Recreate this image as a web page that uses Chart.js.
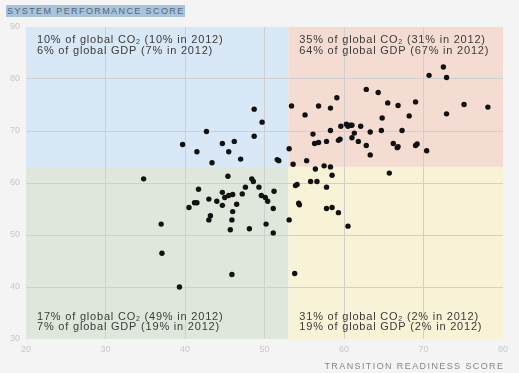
<!DOCTYPE html>
<html>
<head>
<meta charset="utf-8">
<script src="https://cdn.jsdelivr.net/npm/chart.js@4"></script>
<style>
  html, body { margin: 0; padding: 0; background: #f4f4f4; }
  #wrap { position: relative; width: 519px; height: 373px; overflow: hidden; }
  canvas { position: absolute; left: 0; top: 0; }
  #ytitle { position: absolute; left: 6px; top: 5px; height: 12px; line-height: 12px; padding: 0 0 0 1px;
    background: #a9c3da; color: #52667a; font-family: "Liberation Sans", Arial, sans-serif; font-size: 9px;
    letter-spacing: 1.4px; white-space: nowrap; }
  #xtitle { position: absolute; right: 16px; top: 361px; color: #858585; font-family: "Liberation Sans", Arial, sans-serif;
    font-size: 9px; letter-spacing: 1.4px; white-space: nowrap; margin-right: -1.4px; }
</style>
</head>
<body>
<div id="wrap">
  <canvas id="c" width="519" height="373"></canvas>
  <div id="ytitle">SYSTEM PERFORMANCE SCORE</div>
  <div id="xtitle">TRANSITION READINESS SCORE</div>
</div>
<script>
// ---- Data ----
const readinessScores = [
  48.7, 49.7, 42.7, 48.7, 39.7, 44.7, 46.2, 41.5, 45.5, 43.4, 47.0, 51.6, 51.8,
  72.5, 70.7, 72.9, 62.8, 64.3, 59.1, 53.4, 56.8, 58.3, 65.5, 66.8, 69.0, 75.1, 78.1,
  55.1, 64.8, 68.2, 72.9, 59.6, 60.3, 60.5, 60.8, 61.0, 62.1, 58.3, 64.7, 67.3, 63.3,
  61.3, 56.1, 61.0, 59.5, 59.3, 57.8, 61.8, 56.3, 56.8, 62.8, 66.2, 66.7, 66.8, 69.0,
  69.2, 53.1, 70.4, 63.3, 53.6, 55.3, 57.5, 58.3,
  56.4, 58.5, 65.7, 53.9, 54.1, 55.8, 56.6, 57.8, 54.3, 54.4, 57.8, 58.5, 59.3, 60.5,
  53.1, 53.8,
  34.8, 45.4, 48.4, 48.6, 41.7, 47.6, 49.3, 51.2, 44.7, 47.2, 46.0, 45.5, 45.0, 43.0,
  44.0, 49.6, 50.1, 50.4, 41.2, 41.5, 44.7, 46.5, 40.5, 51.1, 46.0, 43.2, 43.0, 45.9,
  37.0, 50.2, 45.7, 48.1, 51.1, 37.1, 45.9, 39.3
];
const performanceScores = [
  74.2, 71.7, 69.9, 69.0, 67.4, 67.6, 68.0, 66.0, 66.0, 63.9, 64.6, 64.5, 64.3,
  82.3, 80.7, 80.3, 78.0, 77.4, 76.4, 74.8, 74.8, 74.4, 75.4, 74.9, 75.6, 75.1, 74.6,
  73.1, 72.5, 72.9, 73.3, 70.9, 71.3, 70.9, 71.1, 71.1, 70.9, 70.1, 70.1, 70.1, 69.8,
  69.6, 69.4, 68.7, 68.4, 68.2, 68.0, 68.0, 67.6, 67.8, 67.2, 67.6, 66.8, 67.0, 67.2,
  67.5, 66.6, 66.2, 65.4, 63.6, 64.3, 63.3, 63.1,
  62.7, 61.5, 61.9, 59.5, 59.7, 60.3, 60.3, 59.2, 56.1, 55.8, 55.1, 55.3, 54.3, 51.7,
  52.9, 42.6,
  60.8, 61.3, 60.8, 60.3, 58.8, 59.2, 59.2, 58.4, 58.2, 57.9, 57.8, 57.6, 57.2, 56.9,
  56.5, 57.6, 57.2, 56.5, 56.2, 56.2, 55.7, 55.9, 55.3, 55.1, 54.5, 53.7, 52.9, 52.9,
  52.1, 52.1, 51.0, 51.2, 50.4, 46.5, 42.4, 40.0
];
const xTicks = [20, 30, 40, 50, 60, 70, 80];
const yTicks = [30, 40, 50, 60, 70, 80, 90];
const readinessSplit = 53.0;
const performanceSplit = 63.1;
const quadrantLabels = [
  { pos: 'tl', co2: '10%', co2Prev: '10%', gdp: '6%',  gdpPrev: '7%'  },
  { pos: 'tr', co2: '35%', co2Prev: '31%', gdp: '64%', gdpPrev: '67%' },
  { pos: 'bl', co2: '17%', co2Prev: '49%', gdp: '7%',  gdpPrev: '19%' },
  { pos: 'br', co2: '31%', co2Prev: '2%',  gdp: '19%', gdpPrev: '2%'  }
];
const quadrantColors = { tl: '#d9e8f6', tr: '#f5dcd2', bl: '#dfe7dc', br: '#f8f2d6' };

const points = readinessScores.map((x, i) => ({ x: x, y: performanceScores[i] }));

const FONT = '"Liberation Sans", Arial, sans-serif';

const quadrantPlugin = {
  id: 'quadrants',
  beforeDraw(chart) {
    const { ctx, chartArea: a, scales: { x, y } } = chart;
    const sx = x.getPixelForValue(readinessSplit);
    const sy = y.getPixelForValue(performanceSplit);
    ctx.save();
    ctx.fillStyle = quadrantColors.tl; ctx.fillRect(a.left, a.top, sx - a.left, sy - a.top);
    ctx.fillStyle = quadrantColors.tr; ctx.fillRect(sx, a.top, a.right - sx, sy - a.top);
    ctx.fillStyle = quadrantColors.bl; ctx.fillRect(a.left, sy, sx - a.left, a.bottom - sy);
    ctx.fillStyle = quadrantColors.br; ctx.fillRect(sx, sy, a.right - sx, a.bottom - sy);
    ctx.restore();
  },
  beforeDatasetsDraw(chart) {
    const { ctx, chartArea: a, scales: { x } } = chart;
    const sx = x.getPixelForValue(readinessSplit);
    ctx.save();
    ctx.fillStyle = '#3a3a3a';
    ctx.textBaseline = 'middle';
    ctx.letterSpacing = '0.8px';
    const drawLine1 = (q, px, py) => {
      ctx.font = '11px ' + FONT;
      let t = q.co2 + ' of global CO';
      ctx.fillText(t, px, py);
      let w = ctx.measureText(t).width;
      ctx.font = '7px ' + FONT;
      ctx.fillText('2', px + w, py + 3);
      w += ctx.measureText('2').width;
      ctx.font = '11px ' + FONT;
      ctx.fillText(' (' + q.co2Prev + ' in 2012)', px + w, py);
    };
    const drawLine2 = (q, px, py) => {
      ctx.font = '11px ' + FONT;
      ctx.fillText(q.gdp + ' of global GDP (' + q.gdpPrev + ' in 2012)', px, py);
    };
    quadrantLabels.forEach(q => {
      const px = (q.pos[1] === 'l') ? a.left + 11 : sx + 11;
      let y1, y2;
      if (q.pos[0] === 't') { y1 = a.top + 12.5; y2 = a.top + 24; }
      else { y1 = a.bottom - 22.5; y2 = a.bottom - 12; }
      drawLine1(q, px, y1);
      drawLine2(q, px, y2);
    });
    ctx.restore();
  }
};

const gridColor = (ctx) => {
  const v = ctx.tick && ctx.tick.value;
  const sc = ctx.scale;
  if (v === sc.min || v === sc.max) return 'rgba(0,0,0,0)';
  return '#cfcfcf';
};

new Chart(document.getElementById('c'), {
  type: 'scatter',
  data: {
    datasets: [{
      data: points,
      backgroundColor: '#111111',
      borderWidth: 0,
      pointRadius: 2.7,
      pointHoverRadius: 2.7
    }]
  },
  plugins: [quadrantPlugin],
  options: {
    responsive: false,
    animation: false,
    events: [],
    layout: { padding: { left: 0, top: 27, right: 16, bottom: 0 } },
    plugins: { legend: { display: false }, tooltip: { enabled: false } },
    scales: {
      x: {
        type: 'linear', min: 20, max: 80,
        afterBuildTicks: (s) => { s.ticks = xTicks.map(v => ({ value: v })); },
        afterFit: (s) => { s.height = 34; },
        border: { display: false },
        grid: { color: gridColor, drawTicks: false, lineWidth: 1 },
        ticks: { padding: 5, color: '#c8c8c8', font: { family: FONT, size: 9 }, maxRotation: 0 }
      },
      y: {
        type: 'linear', min: 30, max: 90,
        afterBuildTicks: (s) => { s.ticks = yTicks.map(v => ({ value: v })); },
        afterFit: (s) => { s.width = 26; },
        border: { display: false },
        grid: { color: gridColor, drawTicks: false, lineWidth: 1 },
        ticks: { padding: 6, color: '#c8c8c8', font: { family: FONT, size: 9 } }
      }
    }
  }
});
</script>
</body>
</html>
